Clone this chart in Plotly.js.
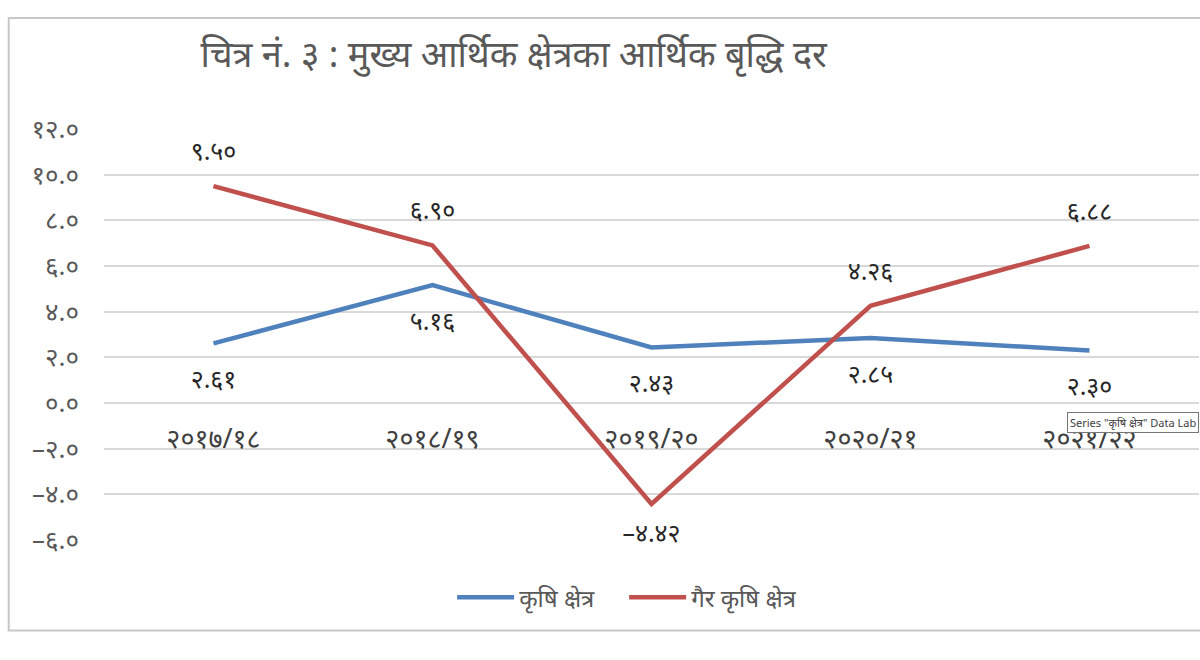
<!DOCTYPE html>
<html>
<head>
<meta charset="utf-8">
<script src="https://cdn.plot.ly/plotly-3.0.1.min.js"></script>
<style>body{margin:0;background:#fff}#chart{width:1200px;height:660px}</style>
</head>
<body>
<div id="chart"></div>
<script>
// मुख्य आर्थिक क्षेत्रका आर्थिक बृद्धि दर
const years = ['२०१७/१८', '२०१८/१९', '२०१९/२०', '२०२०/२१', '२०२१/२२'];
const agri = [2.61, 5.16, 2.43, 2.85, 2.30];
const nonAgri = [9.50, 6.90, -4.42, 4.26, 6.88];
const yTicks = [12, 10, 8, 6, 4, 2, 0, -2, -4, -6];

const DEV = '०१२३४५६७८९';
const toDev = (v, d) => v.toFixed(d).replace(/\d/g, c => DEV[+c]).replace('-', '–');

const FONT = 'Noto Sans, DejaVu Sans, sans-serif';
const idx = years.map((_, i) => i);

const lineTrace = (y, name, color) => ({
  x: idx, y: y, name: name, mode: 'lines',
  line: {color: color, width: 4.5}, cliponaxis: false
});
// labels sit in their own traces so the legend shows plain lines
const labelTrace = (y, pos, size) => ({
  x: idx, y: y, mode: 'markers+text', showlegend: false, hoverinfo: 'skip',
  marker: {size: size, opacity: 0},
  text: y.map(v => toDev(v, 2)), textposition: pos,
  textfont: {family: FONT, size: 25, color: '#262626'}, cliponaxis: false
});

const traces = [
  lineTrace(agri, 'कृषि क्षेत्र', '#4F81BD'),
  lineTrace(nonAgri, 'गैर कृषि क्षेत्र', '#C0504D'),
  labelTrace(agri, 'bottom center', 40),
  labelTrace(nonAgri, nonAgri.map(v => v < 0 ? 'bottom center' : 'top center'), 30)
];

const layout = {
  width: 1200, height: 660,
  margin: {l: 104, r: 1, t: 129, b: 120},
  paper_bgcolor: '#fff', plot_bgcolor: '#fff',
  font: {family: FONT, color: '#595959'},
  title: {
    text: 'चित्र नं. ३ : मुख्य आर्थिक क्षेत्रका आर्थिक बृद्धि दर',
    font: {family: FONT, size: 36, color: '#595959'},
    xref: 'container', x: 0.428, xanchor: 'center',
    yref: 'container', y: 0.917, yanchor: 'middle'
  },
  xaxis: {
    range: [-0.5, 4.5], tickvals: idx, ticktext: years,
    anchor: 'free', position: 1 / 3,
    showgrid: false, zeroline: false, showline: false, ticks: '',
    ticklabelstandoff: 17,
    tickfont: {family: FONT, size: 27, color: '#404040'}
  },
  yaxis: {
    range: [-6, 12], tickvals: yTicks, ticktext: yTicks.map(v => toDev(v, 1)),
    gridcolor: '#D9D9D9', gridwidth: 1.5, zeroline: false,
    ticklabelstandoff: 24,
    tickfont: {family: FONT, size: 26, color: '#595959'}
  },
  showlegend: true,
  legend: {
    orientation: 'h', x: 0.475, xanchor: 'center', y: -0.14, yanchor: 'middle',
    entrywidth: 100, itemwidth: 57,
    font: {family: FONT, size: 24, color: '#595959'}
  },
  shapes: [
    {type: 'rect', xref: 'paper', yref: 'paper', x0: -0.087, x1: 1.01, y0: -0.22, y1: 1.27,
     line: {color: '#C8C8C8', width: 2}}
  ],
  annotations: [
    {xref: 'paper', yref: 'paper', x: 1.0, xanchor: 'right', y: 0.285, yanchor: 'middle',
     text: 'Series "कृषि क्षेत्र" Data Lab', showarrow: false,
     font: {family: FONT, size: 11, color: '#404040'},
     bgcolor: '#fff', bordercolor: '#767676', borderwidth: 1, borderpad: 2}
  ]
};

Plotly.newPlot('chart', traces, layout, {displayModeBar: false});
</script>
</body>
</html>
